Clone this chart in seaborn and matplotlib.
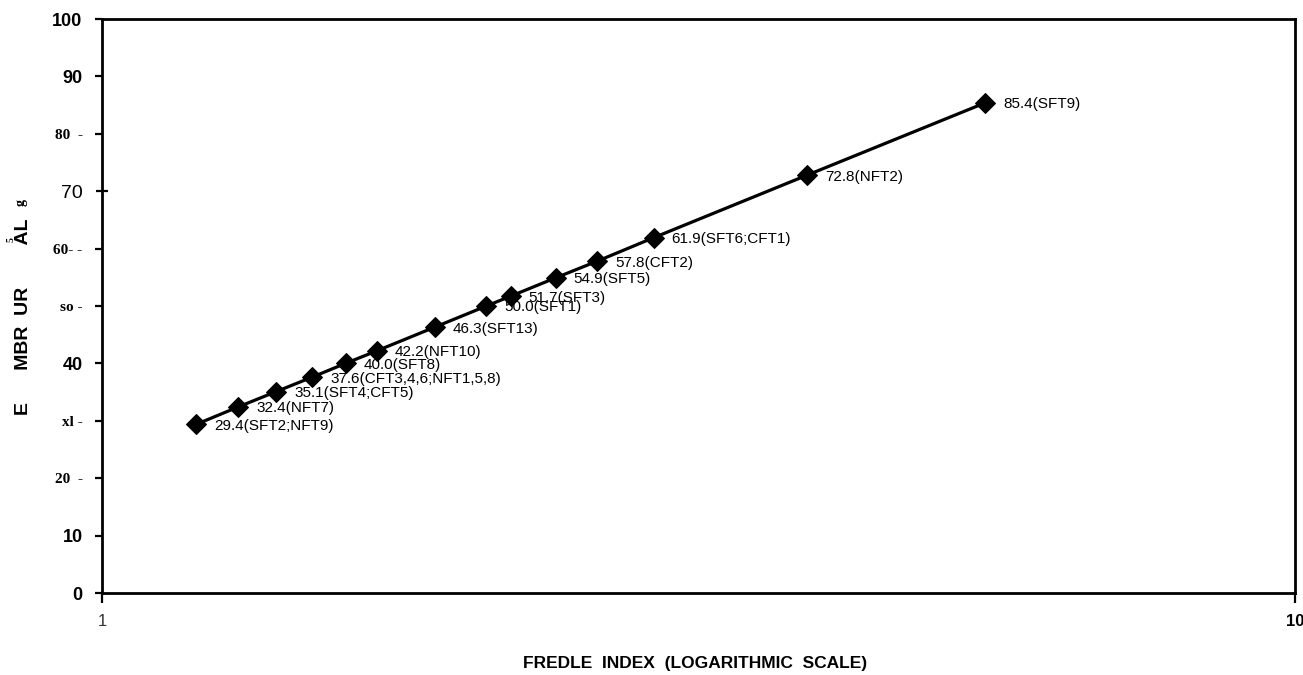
import matplotlib
matplotlib.use("Agg")
import matplotlib.pyplot as plt
import seaborn as sns
import pandas as pd

# Fredle index (log scale) against embeddedness for each sample group
fredle = [1.2, 1.3, 1.4, 1.5, 1.6, 1.7, 1.9, 2.1, 2.2, 2.4, 2.6, 2.9, 3.9, 5.5]
emb = [29.4, 32.4, 35.1, 37.6, 40.0, 42.2, 46.3, 50.0, 51.7, 54.9, 57.8, 61.9, 72.8, 85.4]
groups = ["SFT2;NFT9", "NFT7", "SFT4;CFT5", "CFT3,4,6;NFT1,5,8", "SFT8", "NFT10",
          "SFT13", "SFT1", "SFT3", "SFT5", "CFT2", "SFT6;CFT1", "NFT2", "SFT9"]

y_tick_values = [0, 10, 20, 30, 40, 50, 60, 70, 80, 90, 100]
y_tick_labels = ["0", "10", "20  -", "xl -", "40", "so -", "60- -", "70", "80  -", "90", "100"]
serif_ticks = {20, 30, 50, 60, 80}
x_tick_values = [1, 10]
x_tick_labels = ["1", "10"]

x_title = "FREDLE  INDEX  (LOGARITHMIC  SCALE)"
y_title = "E      MBR  UR        AL"

sns.set_style("ticks")
plt.rcParams["font.family"] = ["Liberation Sans", "DejaVu Sans"]
plt.rcParams["text.color"] = "black"
plt.rcParams["axes.labelcolor"] = "black"
plt.rcParams["xtick.color"] = "black"
plt.rcParams["ytick.color"] = "black"

df = pd.DataFrame({"fredle": fredle, "emb": emb, "group": groups})

fig = plt.figure(figsize=(13.03, 6.75), dpi=100)
ax = fig.add_axes([102 / 1303, 82 / 675, 1193 / 1303, 574 / 675])

sns.lineplot(data=df, x="fredle", y="emb", ax=ax, color="black", linewidth=2.3,
             marker="D", markersize=10, markeredgecolor="black", markerfacecolor="black")

for xv, yv, g in zip(df["fredle"], df["emb"], df["group"]):
    ax.annotate(f"{yv:.1f}({g})", xy=(xv, yv), xytext=(13, -1), textcoords="offset points",
                ha="left", va="center", fontsize=11, color="black")

ax.set_xscale("log")
ax.set_xlim(1, 10)
ax.set_ylim(0, 100)

ax.set_xticks(x_tick_values, x_tick_labels)
ax.xaxis.set_minor_locator(matplotlib.ticker.NullLocator())
ax.set_yticks(y_tick_values, y_tick_labels)

ax.tick_params(axis="y", which="major", direction="out", length=5, width=1.6, pad=9,
               colors="black", left=True)
ax.tick_params(axis="x", which="major", direction="out", length=7, width=1.6, pad=8,
               colors="black", bottom=True)

for val, lab in zip(y_tick_values, ax.get_yticklabels()):
    if val in serif_ticks:
        lab.set_fontfamily("Liberation Serif")
        lab.set_fontweight("bold")
        lab.set_fontsize(11)
    elif val == 70:
        lab.set_fontsize(14)
    else:
        lab.set_fontweight("bold")
        lab.set_fontsize(13)

# the 70 tick crosses the axis
for val, tk in zip(y_tick_values, ax.yaxis.get_major_ticks()):
    if val == 70:
        tk.tick1line.set_marker("_")
        tk.tick1line.set_markersize(8)
        tk.tick1line.set_markeredgewidth(1.6)

xl = ax.get_xticklabels()
xl[0].set_fontsize(12)
xl[0].set_color("#333333")
xl[1].set_fontsize(12)
xl[1].set_fontweight("bold")

for side in ["left", "right", "top", "bottom"]:
    ax.spines[side].set_visible(True)
    ax.spines[side].set_color("black")
    ax.spines[side].set_linewidth(2.0)

ax.set_xlabel(x_title, fontsize=12.5, fontweight="bold", color="black")
ax.xaxis.set_label_coords(0.497, -0.122)
ax.xaxis.label.set_va("center")

ax.set_ylabel(y_title, fontsize=14, fontweight="bold", color="black")
ax.yaxis.set_label_coords(-0.066, 0.482)
ax.yaxis.label.set_va("center")

fig.text(21 / 1303, 1 - 203 / 675, "g", fontsize=10, fontfamily="Liberation Serif",
         fontweight="bold", rotation=90, ha="center", va="center")
fig.text(11 / 1303, 1 - 240 / 675, "5", fontsize=7, fontfamily="Liberation Serif",
         fontweight="bold", rotation=90, ha="center", va="center")

fig.savefig("out.png", dpi=100, facecolor="white")
